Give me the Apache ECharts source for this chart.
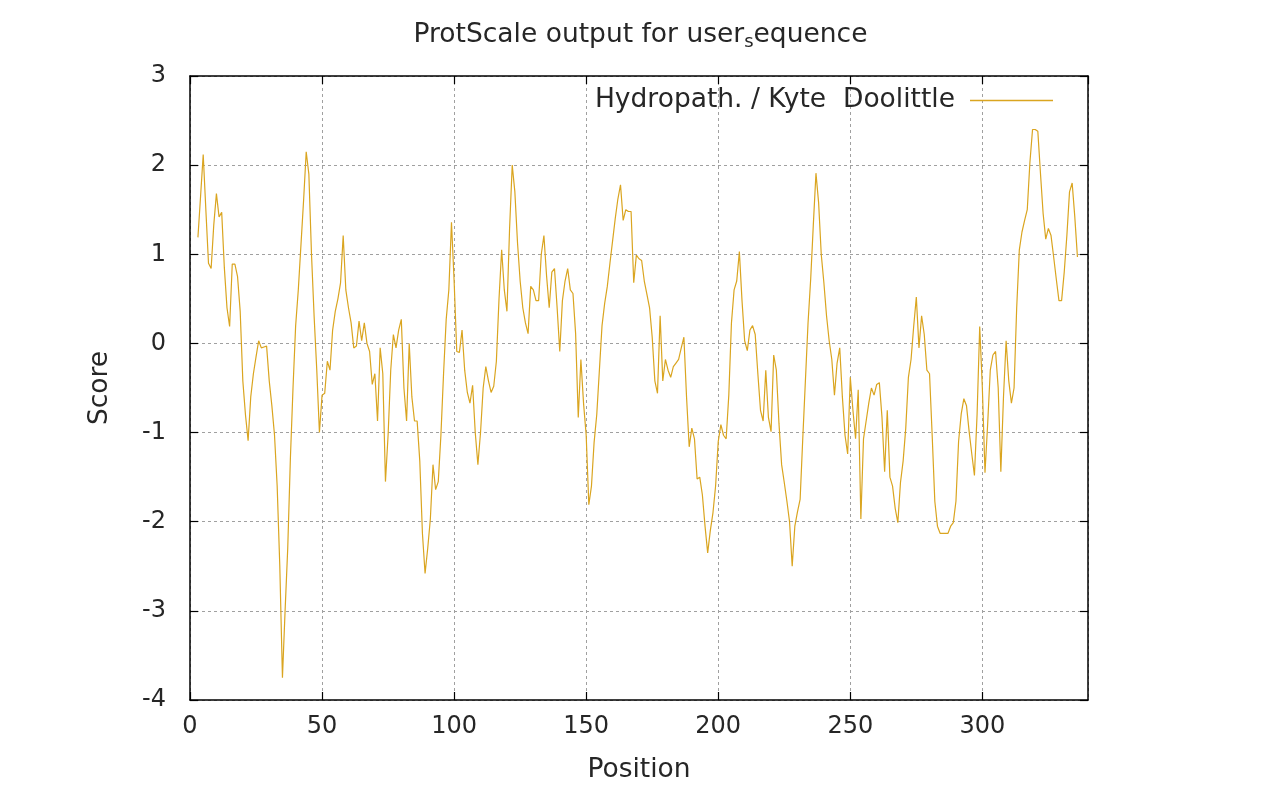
<!DOCTYPE html>
<html>
<head>
<meta charset="utf-8">
<script src="https://cdn.jsdelivr.net/npm/echarts@6/dist/echarts.min.js"></script>
<style>
  html, body { margin: 0; padding: 0; background: #ffffff; }
  #chart { width: 1281px; height: 796px; }
</style>
</head>
<body>
<div id="chart"></div>
<script>
// ---- data ----
const firstPosition = 3;
const scores = [
  1.19,1.65,2.12,1.5,0.9,0.84,1.33,1.68,1.42,1.47,
  0.85,0.4,0.19,0.89,0.89,0.75,0.36,-0.42,-0.8,-1.09,
  -0.6,-0.34,-0.15,0.03,-0.05,-0.04,-0.03,-0.42,-0.7,-1.03,
  -1.6,-2.5,-3.75,-3.0,-2.3,-1.3,-0.5,0.2,0.6,1.1,
  1.6,2.15,1.9,1.0,0.3,-0.3,-1.0,-0.58,-0.56,-0.2,
  -0.3,0.15,0.36,0.5,0.68,1.21,0.6,0.4,0.23,-0.05,
  -0.03,0.25,0.03,0.23,0.0,-0.09,-0.46,-0.34,-0.87,-0.05,
  -0.34,-1.55,-1.03,-0.3,0.1,-0.05,0.15,0.27,-0.5,-0.87,
  0.0,-0.6,-0.87,-0.87,-1.32,-2.13,-2.58,-2.3,-1.97,-1.36,
  -1.64,-1.55,-1.03,-0.34,0.27,0.6,1.36,0.7,-0.09,-0.1,
  0.15,-0.3,-0.55,-0.67,-0.47,-1.0,-1.36,-1.0,-0.5,-0.26,
  -0.42,-0.55,-0.48,-0.2,0.5,1.05,0.6,0.36,1.29,2.0,
  1.7,1.13,0.7,0.4,0.23,0.11,0.64,0.6,0.48,0.48,
  1.0,1.21,0.76,0.4,0.8,0.84,0.4,-0.09,0.48,0.7,
  0.84,0.6,0.56,0.11,-0.83,-0.18,-0.67,-1.03,-1.81,-1.6,
  -1.11,-0.8,-0.3,0.2,0.45,0.64,0.9,1.15,1.4,1.62,
  1.78,1.38,1.5,1.48,1.48,0.68,0.99,0.95,0.93,0.7,
  0.55,0.4,0.07,-0.42,-0.56,0.31,-0.42,-0.18,-0.3,-0.38,
  -0.26,-0.22,-0.18,-0.05,0.07,-0.6,-1.16,-0.95,-1.07,-1.52,
  -1.5,-1.7,-2.05,-2.35,-2.1,-1.9,-1.6,-1.1,-0.91,-1.03,
  -1.07,-0.58,0.23,0.6,0.7,1.03,0.48,0.03,-0.08,0.15,
  0.2,0.1,-0.34,-0.75,-0.87,-0.3,-0.83,-0.99,-0.13,-0.3,
  -0.9,-1.36,-1.56,-1.77,-2.0,-2.5,-2.05,-1.89,-1.75,-1.07,
  -0.42,0.23,0.72,1.33,1.91,1.58,1.0,0.68,0.31,0.03,
  -0.18,-0.58,-0.22,-0.05,-0.6,-1.03,-1.24,-0.38,-0.75,-1.07,
  -0.52,-1.97,-1.07,-0.87,-0.67,-0.5,-0.58,-0.46,-0.44,-0.83,
  -1.44,-0.75,-1.5,-1.6,-1.85,-2.01,-1.56,-1.32,-0.95,-0.38,
  -0.18,0.19,0.52,-0.05,0.31,0.1,-0.3,-0.34,-1.03,-1.77,
  -2.05,-2.13,-2.13,-2.13,-2.13,-2.05,-2.01,-1.77,-1.1,-0.79,
  -0.62,-0.7,-0.99,-1.24,-1.48,-0.8,0.19,-0.5,-1.45,-0.91,
  -0.3,-0.13,-0.09,-0.5,-1.44,-0.6,0.03,-0.42,-0.67,-0.5,
  0.4,1.05,1.25,1.38,1.5,2.03,2.4,2.4,2.38,1.91,
  1.46,1.17,1.29,1.21,0.97,0.72,0.48,0.48,0.8,1.21,
  1.7,1.8,1.42,0.97
];
const xTickValues = [0, 50, 100, 150, 200, 250, 300];
const yTickValues = [-4, -3, -2, -1, 0, 1, 2, 3];
const seriesName = 'Hydropath. / Kyte  Doolittle';
const xName = 'Position';
const yName = 'Score';

// ---- chart ----
const positions = scores.map((_, i) => firstPosition + i);
const seriesData = positions.map((p, i) => [p, scores[i]]);

const FONT = 'DejaVu Sans';
const TXT = '#262626';
const LINE = '#daa520';
const BIG = 26.5;

const chart = echarts.init(document.getElementById('chart'), null, { renderer: 'canvas' });

const border = { show: true, onZero: false, lineStyle: { color: '#000', width: 1.5 } };
const inTick = { show: true, inside: true, length: 8, lineStyle: { color: '#000', width: 1.2 } };
const grid = { show: true, lineStyle: { color: '#a0a0a0', width: 1, type: [3, 3] } };

chart.setOption({
  animation: false,
  backgroundColor: '#ffffff',
  title: {
    left: 'center',
    top: 15,
    text: '{a|ProtScale output for user}{b|s}{a|equence}',
    textStyle: {
      fontWeight: 'normal',
      rich: {
        a: { fontFamily: FONT, fontSize: BIG, fontWeight: 'normal', color: TXT, lineHeight: 31 },
        b: { fontFamily: FONT, fontSize: 18, fontWeight: 'normal', color: TXT, lineHeight: 10, verticalAlign: 'bottom' }
      }
    }
  },
  legend: {
    right: 223,
    top: 82,
    align: 'right',
    icon: 'rect',
    itemWidth: 83,
    itemHeight: 1.5,
    textStyle: { fontFamily: FONT, fontSize: BIG, color: TXT, lineHeight: 27, padding: [0, 10, 0, 0] },
    data: [seriesName]
  },
  grid: { left: 190, right: 193, top: 76, bottom: 96, containLabel: false },
  xAxis: [
    {
      type: 'value', min: 0, max: 340, interval: 50, position: 'bottom',
      axisLine: border, axisTick: inTick,
      axisLabel: {
        fontFamily: FONT, fontSize: 24, color: TXT, margin: 15, showMaxLabel: false,
        formatter: v => (xTickValues.indexOf(v) >= 0 ? String(v) : '')
      },
      splitLine: grid,
      name: xName, nameLocation: 'middle', nameGap: 57,
      nameTextStyle: { fontFamily: FONT, fontSize: BIG, color: TXT }
    },
    {
      type: 'value', min: 0, max: 340, interval: 50, position: 'top',
      axisLine: border, axisTick: inTick, axisLabel: { show: false }, splitLine: { show: false }
    }
  ],
  yAxis: [
    {
      type: 'value', min: -4, max: 3, interval: 1, position: 'left',
      axisLine: border, axisTick: inTick,
      axisLabel: {
        fontFamily: FONT, fontSize: 24, color: TXT, margin: 24,
        formatter: v => (yTickValues.indexOf(v) >= 0 ? String(v) : '')
      },
      splitLine: grid,
      name: yName, nameLocation: 'middle', nameGap: 76,
      nameTextStyle: { fontFamily: FONT, fontSize: BIG, color: TXT }
    },
    {
      type: 'value', min: -4, max: 3, interval: 1, position: 'right',
      axisLine: border, axisTick: inTick, axisLabel: { show: false }, splitLine: { show: false }
    }
  ],
  series: [
    {
      name: seriesName,
      type: 'line',
      xAxisIndex: 0,
      yAxisIndex: 0,
      data: seriesData,
      showSymbol: false,
      symbol: 'none',
      itemStyle: { color: LINE },
      lineStyle: { color: LINE, width: 1.2 },
      z: 3
    }
  ]
});
</script>
</body>
</html>
